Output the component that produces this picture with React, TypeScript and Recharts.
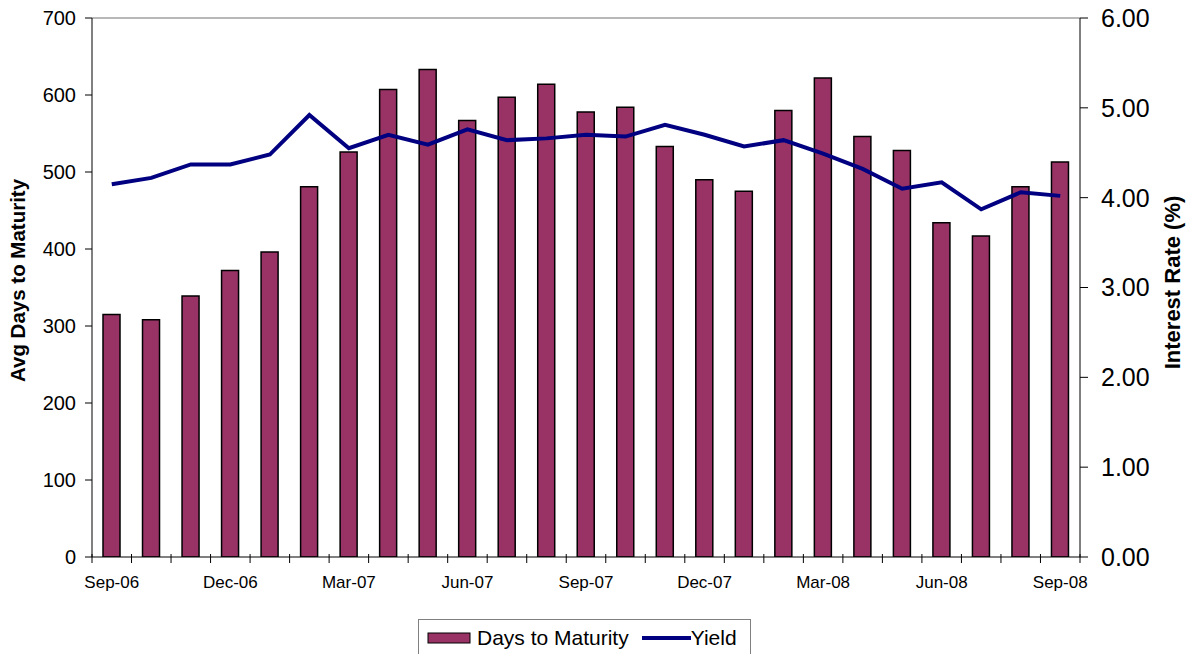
import React from 'react';
import { ComposedChart, Bar, Line, XAxis, YAxis, ReferenceLine, Legend, Label } from 'recharts';

const months = [
  'Sep-06', 'Oct-06', 'Nov-06', 'Dec-06', 'Jan-07', 'Feb-07', 'Mar-07', 'Apr-07', 'May-07',
  'Jun-07', 'Jul-07', 'Aug-07', 'Sep-07', 'Oct-07', 'Nov-07', 'Dec-07', 'Jan-08', 'Feb-08',
  'Mar-08', 'Apr-08', 'May-08', 'Jun-08', 'Jul-08', 'Aug-08', 'Sep-08',
];
const daysToMaturity = [
  315, 308, 339, 372, 396, 481, 526, 607, 633, 567, 597, 614, 578, 584, 533, 490, 475, 580,
  622, 546, 528, 434, 417, 481, 513,
];
const yieldPct = [
  4.15, 4.22, 4.37, 4.37, 4.48, 4.92, 4.55, 4.70, 4.59, 4.76, 4.64, 4.66, 4.70, 4.68, 4.81,
  4.70, 4.57, 4.64, 4.49, 4.32, 4.10, 4.17, 3.87, 4.06, 4.02,
];
const leftTicks = [0, 100, 200, 300, 400, 500, 600, 700];
const rightTicks = [0, 1, 2, 3, 4, 5, 6];
const labelEvery = 3;

const data = months.map((m, i) => ({ month: m, pos: i + 0.5, days: daysToMaturity[i], yld: yieldPct[i] }));
const boundaryTicks = months.map((_, i) => i).concat([months.length]);
const labelTicks = months.map((_, i) => i).filter((i) => i % labelEvery === 0).map((i) => i + 0.5);
const xTicks = [...boundaryTicks, ...labelTicks];

const FONT = '"Liberation Sans", Arial, sans-serif';
const BAR_COLOR = '#993366';
const LINE_COLOR = '#000080';

const XTick = (props: any) => {
  const { x, y, payload } = props;
  const v = payload.value;
  if (Number.isInteger(v)) {
    return <line x1={x} x2={x} y1={y - 3} y2={y + 6} stroke="#000" strokeWidth={1} />;
  }
  const label = months[Math.floor(v)];
  return (
    <text x={x} y={y + 31} textAnchor="middle" fontFamily={FONT} fontSize={17} fill="#000">
      {label}
    </text>
  );
};

const LegendBox = () => (
  <div
    style={{
      boxSizing: 'border-box',
      width: 333,
      height: 36,
      border: '1px solid #808080',
      borderBottom: 'none',
      background: '#fff',
      display: 'flex',
      alignItems: 'center',
      fontFamily: FONT,
      fontSize: 21,
      color: '#000',
      paddingLeft: 8,
      whiteSpace: 'nowrap',
    }}
  >
    <svg width={44} height={12} style={{ display: 'block' }}>
      <rect x={1} y={1} width={42} height={10} fill={BAR_COLOR} stroke="#000" strokeWidth={1} />
    </svg>
    <span style={{ marginLeft: 6 }}>Days to Maturity</span>
    <svg width={49} height={12} style={{ display: 'block', marginLeft: 13 }}>
      <line x1={0} x2={49} y1={6} y2={6} stroke={LINE_COLOR} strokeWidth={4} />
    </svg>
    <span>Yield</span>
  </div>
);

const LeftTitle = (props: any) => {
  const vb = props.viewBox;
  const cx = vb.x + 17;
  const cy = vb.y + vb.height / 2 - 7;
  return (
    <text x={cx} y={cy} transform={`rotate(-90 ${cx} ${cy})`} textAnchor="middle" dominantBaseline="central"
      fontFamily={FONT} fontSize={20.5} fontWeight="bold" fill="#000">
      Avg Days to Maturity
    </text>
  );
};

const RightTitle = (props: any) => {
  const vb = props.viewBox;
  const cx = vb.x + 92;
  const cy = vb.y + vb.height / 2 - 5;
  return (
    <text x={cx} y={cy} transform={`rotate(-90 ${cx} ${cy})`} textAnchor="middle" dominantBaseline="central"
      fontFamily={FONT} fontSize={22} fontWeight="bold" fill="#000">
      Interest Rate (%)
    </text>
  );
};

export default function App() {
  return (
    <div style={{ position: 'absolute', left: 0, top: 0, background: '#fff' }}>
      <ComposedChart width={1188} height={654} data={data} margin={{ top: 18, right: 0, bottom: 0, left: 0 }}>
        <XAxis
          xAxisId="x"
          type="number"
          dataKey="pos"
          domain={[0, months.length]}
          ticks={xTicks}
          interval={0}
          tickLine={false}
          tickSize={0}
          tickMargin={0}
          tick={<XTick />}
          axisLine={{ stroke: '#000', strokeWidth: 1 }}
          height={61}
          allowDataOverflow
        />
        <YAxis
          yAxisId="left"
          orientation="left"
          domain={[0, 700]}
          ticks={leftTicks}
          interval={0}
          width={92}
          tickSize={7}
          tickMargin={9}
          tick={{ fontFamily: FONT, fontSize: 20, fill: '#000' }}
          axisLine={{ stroke: '#000' }}
          tickLine={{ stroke: '#000' }}
          allowDataOverflow
        >
          <Label content={<LeftTitle />} />
        </YAxis>
        <YAxis
          yAxisId="right"
          orientation="right"
          domain={[0, 6]}
          ticks={rightTicks}
          interval={0}
          width={108}
          tickSize={8}
          tickMargin={13}
          tickFormatter={(v: number) => v.toFixed(2)}
          tick={{ fontFamily: FONT, fontSize: 25, fill: '#000' }}
          axisLine={{ stroke: '#000' }}
          tickLine={{ stroke: '#000' }}
          allowDataOverflow
        >
          <Label content={<RightTitle />} />
        </YAxis>
        <ReferenceLine xAxisId="x" yAxisId="left" y={700} stroke="#a0a0a0" strokeWidth={1.5} />
        <Bar
          xAxisId="x"
          yAxisId="left"
          dataKey="days"
          name="Days to Maturity"
          fill={BAR_COLOR}
          stroke="#000"
          strokeWidth={1.5}
          barSize={17}
          isAnimationActive={false}
        />
        <Line
          xAxisId="x"
          yAxisId="right"
          dataKey="yld"
          name="Yield"
          stroke={LINE_COLOR}
          strokeWidth={4}
          dot={false}
          type="linear"
          isAnimationActive={false}
        />
        <Legend
          verticalAlign="bottom"
          align="left"
          content={<LegendBox />}
          wrapperStyle={{ left: 418, top: 619, bottom: 'auto', width: 333, height: 36 }}
        />
      </ComposedChart>
    </div>
  );
}
